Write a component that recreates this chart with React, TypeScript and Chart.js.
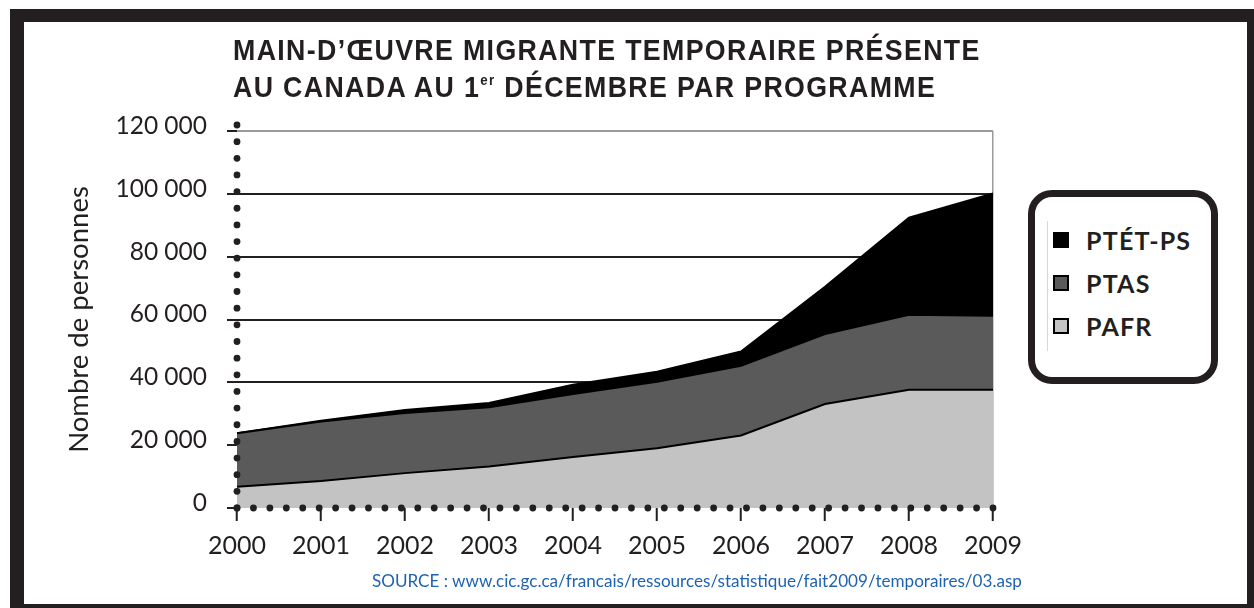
import React, { useEffect, useRef } from 'react';
import { Chart, registerables } from 'chart.js';

Chart.register(...registerables);

const years = ['2000', '2001', '2002', '2003', '2004', '2005', '2006', '2007', '2008', '2009'];
const pafr = [6800, 8600, 11100, 13200, 16200, 19000, 23100, 33100, 37600, 37600];
const ptas = [17000, 18900, 19100, 18900, 20100, 21200, 22200, 22300, 23900, 23600];
const ptetps = [0, 300, 1000, 1300, 2900, 3200, 4500, 15000, 30900, 38900];
const yTicks = [0, 20000, 40000, 60000, 80000, 100000, 120000];

const seriesNames = ['PAFR', 'PTAS', 'PTÉT-PS'];
const seriesColors = ['#c3c3c3', '#5a5a5a', '#000000'];

const titleLine1 = 'MAIN-D’ŒUVRE MIGRANTE TEMPORAIRE PRÉSENTE';
const titleLine2a = 'AU CANADA AU 1';
const titleSup = 'er';
const titleLine2b = ' DÉCEMBRE PAR PROGRAMME';
const yTitle = 'Nombre de personnes';
const sourceText = 'SOURCE : www.cic.gc.ca/francais/ressources/statistique/fait2009/temporaires/03.asp';

const INK = '#231f20';

const fmt = (v: number) => {
  const s = String(Math.round(v));
  return s.replace(/\B(?=(\d{3})+(?!\d))/g, ' ');
};

const dotsPlugin = {
  id: 'dotsAxes',
  afterDatasetsDraw(chart: any) {
    const { ctx, chartArea } = chart;
    const { left, right, top, bottom } = chartArea;
    ctx.save();
    ctx.fillStyle = INK;
    const r = 3.4;
    const nx = Math.round((right - left) / 16.4);
    for (let i = 0; i <= nx; i++) {
      const x = left + (i * (right - left)) / nx;
      ctx.beginPath();
      ctx.arc(x, bottom, r, 0, Math.PI * 2);
      ctx.fill();
    }
    const yTop = top - 6;
    const ny = Math.round((bottom - yTop) / 16.5);
    for (let i = 0; i <= ny; i++) {
      const y = bottom - (i * (bottom - yTop)) / ny;
      ctx.beginPath();
      ctx.arc(left, y, r, 0, Math.PI * 2);
      ctx.fill();
    }
    ctx.restore();
  },
};

export default function App() {
  const canvasRef = useRef<HTMLCanvasElement | null>(null);

  useEffect(() => {
    if (!canvasRef.current) return;
    const data = [pafr, ptas, ptetps];
    const chart = new Chart(canvasRef.current, {
      type: 'line',
      data: {
        labels: years,
        datasets: seriesNames.map((name, i) => ({
          label: name,
          data: data[i],
          backgroundColor: seriesColors[i],
          borderColor: '#000000',
          borderWidth: 2,
          pointRadius: 0,
          tension: 0,
          fill: i === 0 ? 'origin' : '-1',
        })),
      },
      options: {
        animation: false,
        responsive: true,
        maintainAspectRatio: false,
        layout: { padding: { left: 0, right: 261, top: 131, bottom: 0 } },
        plugins: {
          legend: { display: false },
          tooltip: { enabled: false },
        },
        scales: {
          x: {
            offset: false,
            border: { display: false },
            grid: {
              color: (c: any) => (c.index === years.length - 1 ? '#9a9a9a' : 'rgba(0,0,0,0)'),
              lineWidth: 1.5,
              tickColor: INK,
              tickLength: 13,
              tickWidth: 2,
              drawOnChartArea: true,
            },
            ticks: {
              color: INK,
              font: { family: 'Lato', size: 25 },
              padding: 10,
              maxRotation: 0,
              autoSkip: false,
            },
            afterFit: (s: any) => {
              s.height = 100;
            },
          },
          y: {
            stacked: true,
            min: 0,
            max: 120000,
            border: { display: false },
            afterBuildTicks: (s: any) => {
              s.ticks = yTicks.map((v) => ({ value: v }));
            },
            grid: {
              color: (c: any) =>
                c.tick && c.tick.value === 120000
                  ? '#9a9a9a'
                  : c.tick && c.tick.value === 0
                  ? 'rgba(0,0,0,0)'
                  : INK,
              lineWidth: 2,
              tickColor: INK,
              tickLength: 10,
              tickWidth: 2,
            },
            ticks: {
              color: INK,
              font: { family: 'Lato', size: 24.5 },
              padding: 20,
              labelOffset: -5,
              callback: (v: any) => fmt(Number(v)),
            },
            title: {
              display: true,
              text: yTitle,
              color: INK,
              font: { family: 'Lato', size: 27.5 },
              padding: { top: 63, bottom: 0 },
            },
            afterFit: (s: any) => {
              s.width = 237;
            },
          },
        },
      },
      plugins: [dotsPlugin],
    } as any);
    return () => chart.destroy();
  }, []);

  const legendItems = [2, 1, 0];

  return (
    <div style={{ position: 'fixed', left: 0, top: 0, width: 1254, height: 608, background: '#fff', overflow: 'hidden' }}>
      <div
        style={{
          position: 'absolute',
          left: 10,
          top: 9,
          width: 1254,
          height: 608,
          boxSizing: 'border-box',
          borderStyle: 'solid',
          borderColor: INK,
          borderTopWidth: 13,
          borderLeftWidth: 14,
          borderRightWidth: 17,
          borderBottomWidth: 13,
          background: '#fff',
        }}
      />
      <div style={{ position: 'absolute', left: 0, top: 0, width: 1254, height: 608 }}>
        <canvas ref={canvasRef} />
      </div>
      <div
        style={{
          position: 'absolute',
          left: 233,
          top: 31,
          fontFamily: '"Liberation Sans", sans-serif',
          fontWeight: 700,
          fontSize: 30,
          lineHeight: '37px',
          letterSpacing: 1.5,
          color: INK,
          whiteSpace: 'nowrap',
          transform: 'scaleX(0.892)',
          transformOrigin: 'left top',
        }}
      >
        <div>{titleLine1}</div>
        <div>
          {titleLine2a}
          <sup style={{ fontSize: 15, verticalAlign: 'top', lineHeight: '24px' }}>{titleSup}</sup>
          {titleLine2b}
        </div>
      </div>
      <div
        style={{
          position: 'absolute',
          left: 1028,
          top: 190,
          width: 190,
          height: 194,
          boxSizing: 'border-box',
          border: `7px solid ${INK}`,
          borderRadius: 24,
          background: '#fff',
        }}
      >
        <div style={{ position: 'absolute', left: 12, top: 24, width: 1, height: 130, background: '#d8d8d8' }} />
        {legendItems.map((idx, k) => (
          <div
            key={seriesNames[idx]}
            style={{
              position: 'absolute',
              left: 18,
              top: 30 + k * 43,
              height: 26,
              display: 'flex',
              alignItems: 'center',
              fontFamily: 'Lato, sans-serif',
              fontWeight: 700,
              fontSize: 25,
              letterSpacing: 1.2,
              color: INK,
              whiteSpace: 'nowrap',
            }}
          >
            <span
              style={{
                display: 'inline-block',
                width: 16,
                height: 16,
                boxSizing: 'border-box',
                background: seriesColors[idx],
                border: '2px solid #000',
                marginRight: 17,
              }}
            />
            {seriesNames[idx]}
          </div>
        ))}
      </div>
      <div
        style={{
          position: 'absolute',
          left: 372,
          top: 570,
          fontFamily: 'Lato, sans-serif',
          fontSize: 17.1,
          color: '#1f63b0',
          whiteSpace: 'nowrap',
        }}
      >
        {sourceText}
      </div>
    </div>
  );
}
